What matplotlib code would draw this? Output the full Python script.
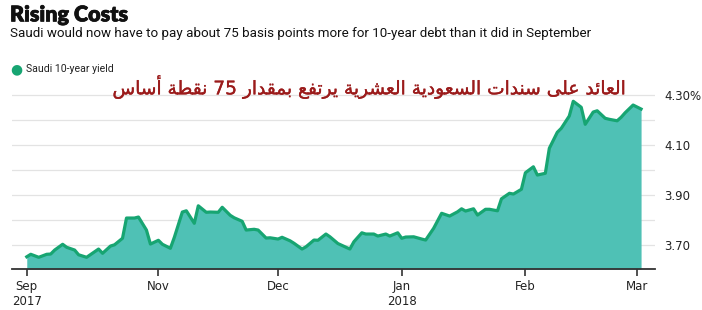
import matplotlib
matplotlib.use('Agg')
import matplotlib.pyplot as plt
import matplotlib.patheffects as pe
import pandas as pd

dates = ['2017-09-29', '2017-09-30', '2017-10-02', '2017-10-04', '2017-10-05', '2017-10-06',
         '2017-10-08', '2017-10-09', '2017-10-11', '2017-10-12', '2017-10-14', '2017-10-16',
         '2017-10-17', '2017-10-18', '2017-10-20', '2017-10-21', '2017-10-23', '2017-10-24',
         '2017-10-26', '2017-10-27', '2017-10-29', '2017-10-30', '2017-11-01', '2017-11-02',
         '2017-11-04', '2017-11-05', '2017-11-07', '2017-11-08', '2017-11-10', '2017-11-11',
         '2017-11-13', '2017-11-14', '2017-11-16', '2017-11-17', '2017-11-19', '2017-11-20',
         '2017-11-22', '2017-11-23', '2017-11-25', '2017-11-26', '2017-11-28', '2017-11-29',
         '2017-12-01', '2017-12-02', '2017-12-04', '2017-12-05', '2017-12-07', '2017-12-08',
         '2017-12-10', '2017-12-11', '2017-12-13', '2017-12-14', '2017-12-16', '2017-12-19',
         '2017-12-20', '2017-12-22', '2017-12-23', '2017-12-25', '2017-12-26', '2017-12-28',
         '2017-12-29', '2017-12-31', '2018-01-01', '2018-01-02', '2018-01-04', '2018-01-06',
         '2018-01-07', '2018-01-09', '2018-01-10', '2018-01-11', '2018-01-13', '2018-01-15',
         '2018-01-16', '2018-01-17', '2018-01-19', '2018-01-20', '2018-01-22', '2018-01-23',
         '2018-01-25', '2018-01-26', '2018-01-28', '2018-01-29', '2018-01-31', '2018-02-01',
         '2018-02-03', '2018-02-04', '2018-02-06', '2018-02-07', '2018-02-09', '2018-02-10',
         '2018-02-12', '2018-02-13', '2018-02-15', '2018-02-16', '2018-02-18', '2018-02-19',
         '2018-02-21', '2018-02-22', '2018-02-24', '2018-02-25', '2018-02-26', '2018-02-28',
         '2018-03-02']
yield_10y = [3.654, 3.664, 3.652, 3.664, 3.665, 3.681, 3.704, 3.692, 3.681, 3.662, 3.652, 3.674,
             3.685, 3.668, 3.697, 3.702, 3.728, 3.809, 3.809, 3.813, 3.761, 3.705, 3.720, 3.704,
             3.688, 3.732, 3.833, 3.838, 3.788, 3.858, 3.832, 3.833, 3.832, 3.852, 3.820, 3.810,
             3.796, 3.761, 3.764, 3.761, 3.729, 3.730, 3.725, 3.732, 3.718, 3.708, 3.685, 3.694,
             3.721, 3.720, 3.745, 3.734, 3.707, 3.685, 3.714, 3.750, 3.745, 3.745, 3.737, 3.745,
             3.737, 3.750, 3.728, 3.733, 3.734, 3.725, 3.721, 3.768, 3.798, 3.828, 3.817, 3.834,
             3.846, 3.837, 3.846, 3.821, 3.844, 3.844, 3.838, 3.886, 3.908, 3.905, 3.924, 3.990,
             4.014, 3.981, 3.988, 4.088, 4.152, 4.168, 4.217, 4.276, 4.252, 4.184, 4.233, 4.238,
             4.208, 4.204, 4.198, 4.212, 4.230, 4.261, 4.245]

tick_dates = ['2017-09-29', '2017-11-01', '2017-12-01', '2018-01-01', '2018-02-01', '2018-03-01']
tick_labels = ['Sep\n2017', 'Nov', 'Dec', 'Jan\n2018', 'Feb', 'Mar']
grid_levels = [3.70, 3.80, 3.90, 4.00, 4.10, 4.20, 4.30]
label_levels = [3.70, 3.90, 4.10, 4.30]
level_labels = ['3.70', '3.90', '4.10', '4.30%']

title = 'Rising Costs'
subtitle = 'Saudi would now have to pay about 75 basis points more for 10-year debt than it did in September'
series_name = 'Saudi 10-year yield'
arabic_note = 'العائد على سندات السعودية العشرية يرتفع بمقدار 75 نقطة أساس'

# matplotlib has no arabic shaping, so pick presentation forms by hand
TWO_FORM = {'ا': 0xFE8D, 'أ': 0xFE83, 'د': 0xFEA9, 'ر': 0xFEAD, 'و': 0xFEED, 'ة': 0xFE93, 'ى': 0xFEEF}
FOUR_FORM = {'ئ': 0xFE89, 'ب': 0xFE8F, 'ت': 0xFE95, 'س': 0xFEB1, 'ش': 0xFEB5, 'ط': 0xFEC1,
             'ع': 0xFEC9, 'ف': 0xFED1, 'ق': 0xFED5, 'ل': 0xFEDD, 'م': 0xFEE1, 'ن': 0xFEE5, 'ي': 0xFEF1}


def shape_word(word):
    if not any(c in TWO_FORM or c in FOUR_FORM for c in word):
        return word
    out = []
    for i, c in enumerate(word):
        prev_joins = i > 0 and word[i - 1] in FOUR_FORM
        next_joins = c in FOUR_FORM and i + 1 < len(word) and (word[i + 1] in FOUR_FORM or word[i + 1] in TWO_FORM)
        base = FOUR_FORM.get(c, TWO_FORM.get(c))
        if prev_joins and next_joins:
            code = base + 3
        elif next_joins:
            code = base + 2
        elif prev_joins:
            code = base + 1
        else:
            code = base
        out.append(chr(code))
    return ''.join(reversed(out))


def visual_arabic(text):
    return ' '.join(shape_word(w) for w in reversed(text.split(' ')))


x = pd.to_datetime(dates)
ticks = pd.to_datetime(tick_dates)

line_col = '#17a572'
fill_col = '#4fc1b5'
text_col = '#222222'

fig = plt.figure(figsize=(7.02, 3.10), dpi=100)
ax = fig.add_axes([0.0171, 0.1313, 0.916, 0.5694])

y_bottom = 3.604
ax.fill_between(x, yield_10y, y_bottom, color=fill_col, linewidth=0)
ax.plot(x, yield_10y, color=line_col, linewidth=2.3, solid_joinstyle='round')

for g in grid_levels:
    ax.axhline(g, color='#e3e3e3', linewidth=0.9, zorder=0)

ax.set_ylim(y_bottom, 4.31)
ax.set_xlim(x[0] - pd.Timedelta(days=3.7), x[-1] + pd.Timedelta(days=3.5))

for s in ['left', 'right', 'top']:
    ax.spines[s].set_visible(False)
ax.spines['bottom'].set_color('#333333')
ax.spines['bottom'].set_linewidth(1.3)

ax.set_xticks(ticks)
ax.set_xticklabels(tick_labels, fontsize=8.5, color=text_col, linespacing=1.25)
ax.tick_params(axis='x', length=5, width=1.2, color='#333333', pad=2.5)

ax.yaxis.tick_right()
ax.set_yticks(label_levels)
ax.set_yticklabels(level_labels, fontsize=8.5, color=text_col)
ax.tick_params(axis='y', length=0, pad=6.5)

t = fig.text(0.0142, 0.952, title, fontsize=15.5, fontweight='heavy', family='Lato',
             color='#111111', va='center')
t.set_path_effects([pe.withStroke(linewidth=0.5, foreground='#111111')])
fig.text(0.0142, 0.892, subtitle, fontsize=9.65, family='Roboto', color='#111111', va='center')

fig.text(0.0228, 0.777, '\u25cf', fontsize=10, color=line_col, va='center', ha='center')
fig.text(0.037, 0.777, series_name, fontsize=7.6, family='Roboto', color=text_col, va='center')

a = fig.text(0.527, 0.72, visual_arabic(arabic_note), fontsize=13.4, family='DejaVu Sans',
             color='#9b1b1b', va='center', ha='center')
a.set_path_effects([pe.withStroke(linewidth=0.25, foreground='#9b1b1b')])

fig.savefig('out.png', dpi=100)
